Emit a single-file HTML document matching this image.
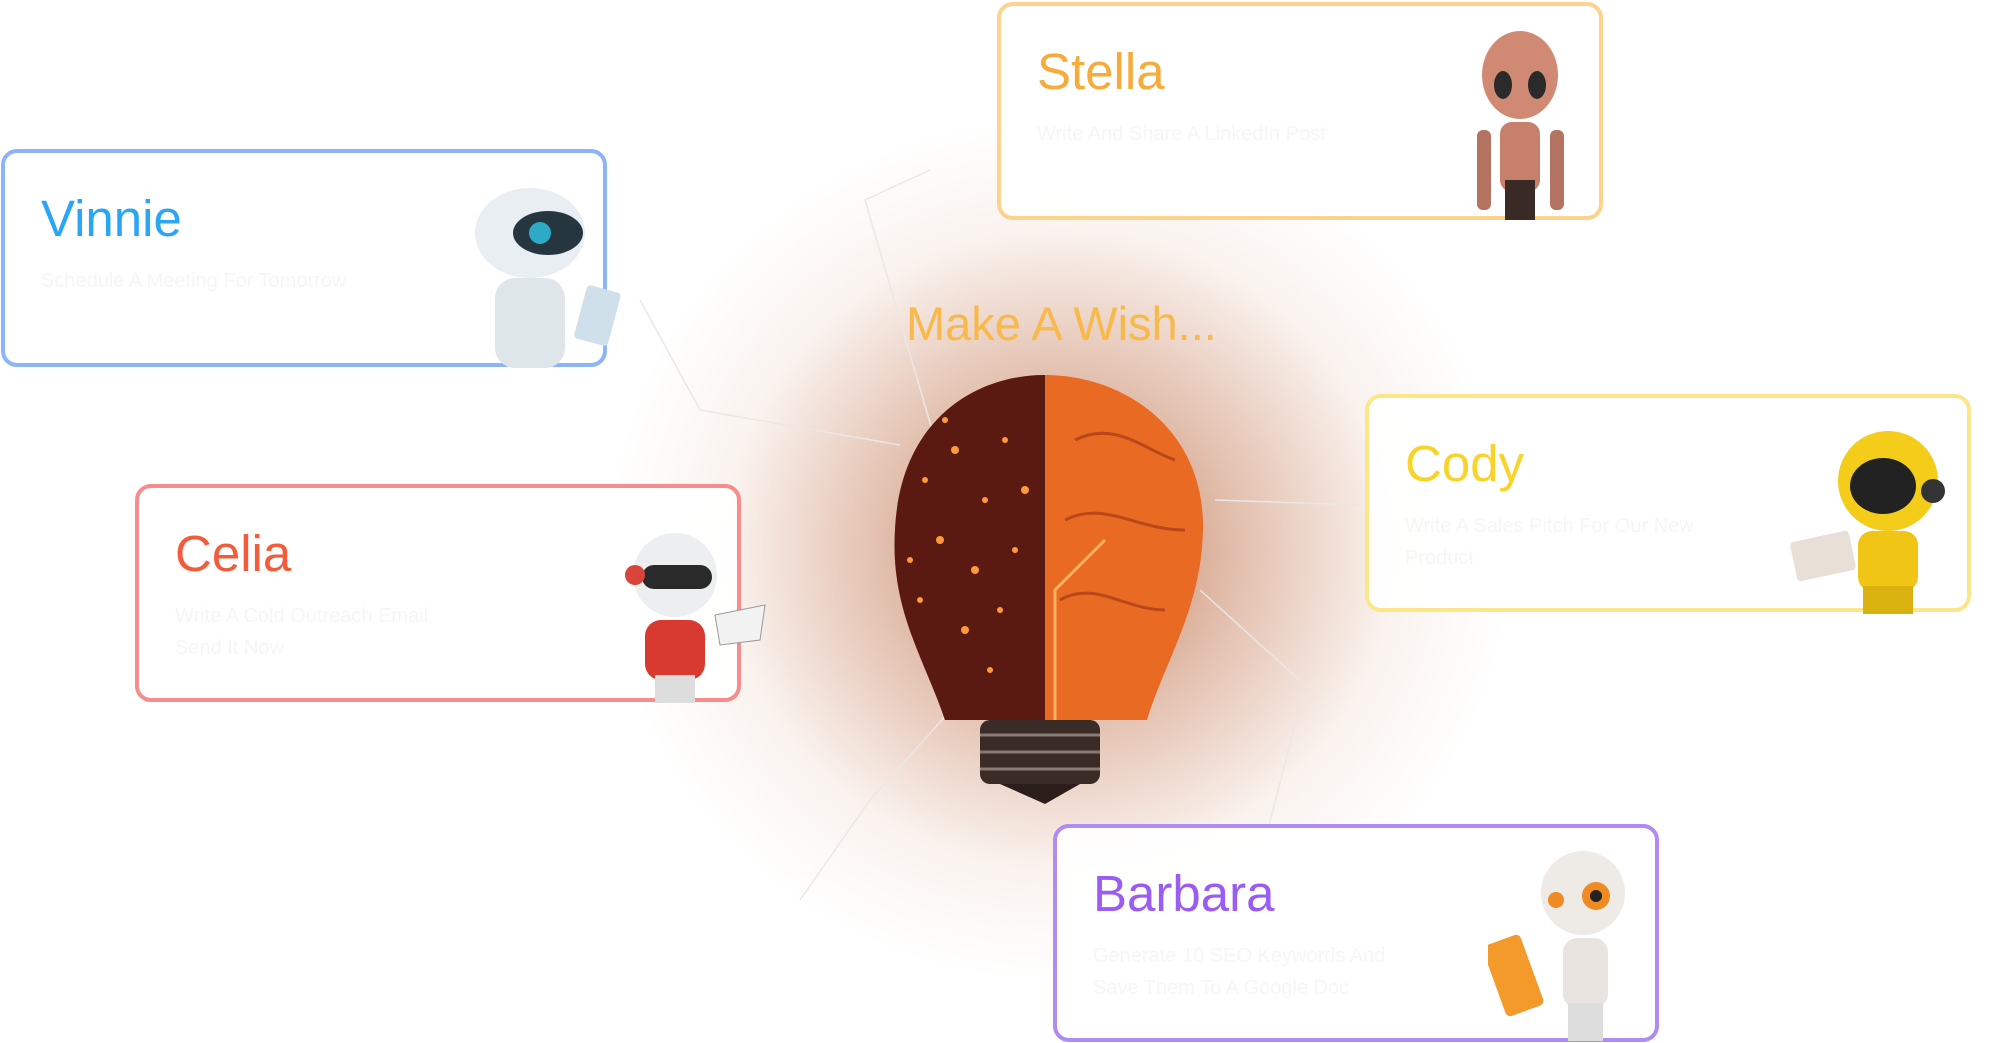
<!DOCTYPE html>
<html><head><meta charset="utf-8"><style>
html,body{margin:0;padding:0;background:#fff;}
body{width:1989px;height:1038px;position:relative;overflow:hidden;font-family:"Liberation Sans",sans-serif;}
.glow{position:absolute;left:590px;top:100px;width:940px;height:900px;border-radius:50%;
background:radial-gradient(ellipse at center,rgba(170,80,30,0.75) 0%,rgba(190,110,70,0.42) 28%,rgba(220,170,140,0.15) 50%,rgba(255,255,255,0) 68%);}
.card{position:absolute;width:598px;height:210px;border:4px solid;border-radius:16px;background:rgba(255,255,255,0.93);box-sizing:content-box;}
.card h2{position:absolute;left:36px;top:36px;margin:0;font-weight:400;font-size:51px;}
.card p{position:absolute;left:36px;top:112px;margin:0;font-size:20px;line-height:32px;color:#f6f6f6;width:440px;}
.wish{position:absolute;left:906px;top:296px;font-size:47px;color:#f8b94a;white-space:nowrap;}
svg{position:absolute;}
</style></head><body>
<div class="glow"></div>
<svg width="1989" height="1038" style="left:0;top:0">
<g stroke="#ebe7e5" stroke-width="1.5" fill="none">
<path d="M935 440 L865 200 L930 170"/><path d="M900 445 L700 410 L640 300"/>
<path d="M1215 500 L1360 505"/><path d="M1200 590 L1305 685 L1250 900"/>
<path d="M960 700 L870 800 L800 900"/>
</g></svg>

<div class="card" style="left:997px;top:2px;border-color:#fdd28d"><h2 style="color:#f7ab3a">Stella</h2><p>Write And Share A LinkedIn Post</p></div>
<div class="card" style="left:1px;top:149px;border-color:#8db4fa"><h2 style="color:#2ba6f5">Vinnie</h2><p>Schedule A Meeting For Tomorrow</p></div>
<div class="card" style="left:135px;top:484px;border-color:#f68c8c"><h2 style="color:#f25c3a">Celia</h2><p>Write A Cold Outreach Email<br>Send It Now</p></div>
<div class="card" style="left:1365px;top:394px;border-color:#fbe68a"><h2 style="color:#f8d42a">Cody</h2><p>Write A Sales Pitch For Our New<br>Product</p></div>
<div class="card" style="left:1053px;top:824px;border-color:#b08af5"><h2 style="color:#9a5cf2">Barbara</h2><p>Generate 10 SEO Keywords And<br>Save Them To A Google Doc</p></div>

<div class="wish">Make A Wish...</div>

<svg width="340" height="460" style="left:885px;top:360px" viewBox="0 0 340 460">
<path d="M60 360 C40 300 5 250 10 170 C15 60 90 15 160 15 C240 15 320 70 318 170 C316 250 280 300 262 360 Z" fill="#e96a23"/>
<path d="M60 360 C40 300 5 250 10 170 C15 60 90 15 160 15 L160 360 Z" fill="#5a1a12"/>
<g fill="#ff9a3c">
<circle cx="40" cy="120" r="3"/><circle cx="70" cy="90" r="4"/><circle cx="100" cy="140" r="3"/><circle cx="55" cy="180" r="4"/><circle cx="120" cy="80" r="3"/><circle cx="90" cy="210" r="4"/><circle cx="35" cy="240" r="3"/><circle cx="130" cy="190" r="3"/><circle cx="80" cy="270" r="4"/><circle cx="115" cy="250" r="3"/><circle cx="60" cy="60" r="3"/><circle cx="140" cy="130" r="4"/><circle cx="25" cy="200" r="3"/><circle cx="105" cy="310" r="3"/>
</g>
<g stroke="#b8481a" stroke-width="3" fill="none"><path d="M190 80 C230 60 260 90 290 100"/><path d="M180 160 C220 140 250 170 300 170"/><path d="M175 240 C210 220 240 250 280 250"/></g>
<path d="M170 360 L170 230 L220 180" stroke="#ffb060" stroke-width="3" fill="none"/>
<rect x="95" y="360" width="120" height="64" rx="10" fill="#3a2b27"/>
<g stroke="#8a7a72" stroke-width="3"><line x1="95" y1="375" x2="215" y2="375"/><line x1="95" y1="392" x2="215" y2="392"/><line x1="95" y1="409" x2="215" y2="409"/></g>
<path d="M115 424 L195 424 L160 444 Z" fill="#2b1e1b"/>
</svg>

<svg width="175" height="190" style="left:460px;top:183px" viewBox="0 0 175 190">
<ellipse cx="70" cy="50" rx="55" ry="45" fill="#e8eef2"/><ellipse cx="88" cy="50" rx="35" ry="22" fill="#25363f"/><circle cx="80" cy="50" r="11" fill="#2ea9c6"/>
<rect x="35" y="95" width="70" height="90" rx="20" fill="#dfe6ea"/><rect x="120" y="105" width="35" height="55" rx="4" fill="#cfe0ea" transform="rotate(15 137 132)"/>
</svg>
<svg width="130" height="190" style="left:1455px;top:30px" viewBox="0 0 130 190">
<ellipse cx="65" cy="45" rx="38" ry="44" fill="#d08a73"/><ellipse cx="48" cy="55" rx="9" ry="14" fill="#2a2a2a"/><ellipse cx="82" cy="55" rx="9" ry="14" fill="#2a2a2a"/>
<rect x="45" y="92" width="40" height="70" rx="12" fill="#c78069"/><rect x="22" y="100" width="14" height="80" rx="6" fill="#b47360"/><rect x="95" y="100" width="14" height="80" rx="6" fill="#b47360"/><rect x="50" y="150" width="30" height="40" fill="#3a2a26"/>
</svg>
<svg width="150" height="175" style="left:620px;top:530px" viewBox="0 0 150 175">
<circle cx="55" cy="45" r="42" fill="#eceeef"/><rect x="22" y="35" width="70" height="24" rx="12" fill="#2a2a2a"/><circle cx="15" cy="45" r="10" fill="#d9453a"/>
<rect x="25" y="90" width="60" height="60" rx="16" fill="#d83a30"/><path d="M95 85 L145 75 L140 110 L100 115 Z" fill="#f2f2f2" stroke="#999"/><rect x="35" y="145" width="40" height="28" fill="#ddd"/>
</svg>
<svg width="170" height="190" style="left:1788px;top:426px" viewBox="0 0 170 190">
<circle cx="100" cy="55" r="50" fill="#f3cd1a"/><ellipse cx="95" cy="60" rx="33" ry="28" fill="#222"/><circle cx="145" cy="65" r="12" fill="#333"/>
<rect x="70" y="105" width="60" height="60" rx="14" fill="#f0c515"/><rect x="5" y="110" width="60" height="40" rx="4" fill="#e8e0d6" transform="rotate(-12 35 130)"/><rect x="75" y="160" width="50" height="28" fill="#d9b20f"/>
</svg>
<svg width="200" height="195" style="left:1488px;top:848px" viewBox="0 0 200 195">
<circle cx="95" cy="45" r="42" fill="#eeeae6"/><circle cx="108" cy="48" r="14" fill="#f08a22"/><circle cx="108" cy="48" r="6" fill="#222"/><circle cx="68" cy="52" r="8" fill="#f08a22"/>
<rect x="75" y="90" width="45" height="70" rx="14" fill="#e9e4df"/><rect x="5" y="90" width="40" height="75" rx="5" fill="#f39a2a" transform="rotate(-20 25 127)"/><rect x="80" y="155" width="35" height="38" fill="#ddd"/>
</svg>
</body></html>
